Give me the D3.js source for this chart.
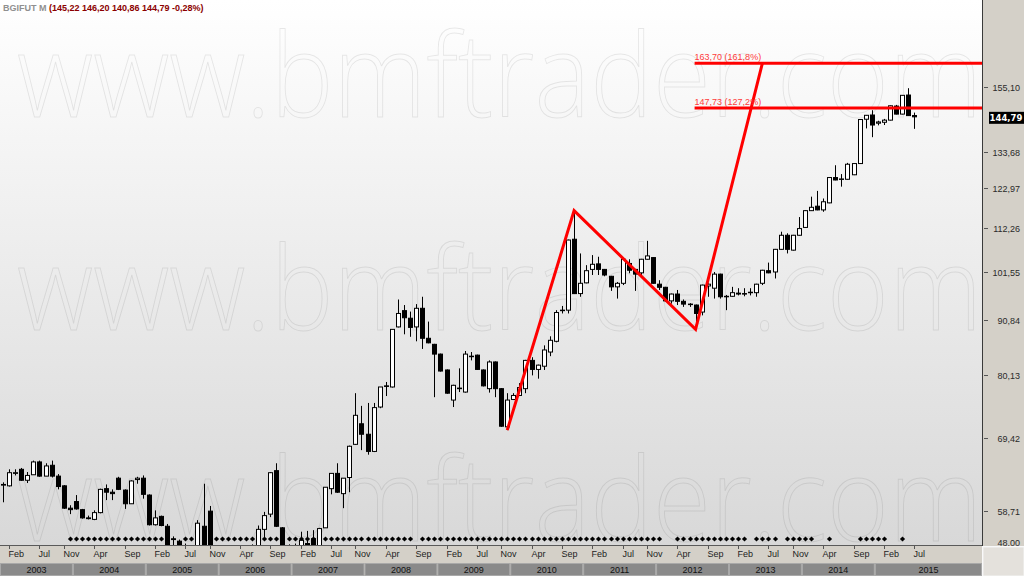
<!DOCTYPE html>
<html><head><meta charset="utf-8">
<script src="https://cdn.jsdelivr.net/npm/d3@7"></script>
<style>body{margin:0;background:#fff;} svg{display:block;}</style>
</head><body>
<svg id="c" width="1024" height="576"></svg>
<script>
// ---------------- DATA ----------------
const symbolName = "BGIFUT M";
const startYear = 2003;               // first bar = Jan 2003, monthly bars
const years = [2003,2004,2005,2006,2007,2008,2009,2010,2011,2012,2013,2014,2015];
const monthNames = ["Jan","Feb","Mar","Apr","May","Jun","Jul","Aug","Sep","Oct","Nov","Dec"];
const tickMonths = [1,6,10,15,20,25,30,34,39,44,49,54,58,63,68,73,78,82,87,92,97,102,106,111,116,121,126,130,135,140,145,150];

const opens = [62.3,62.2,64.0,64.6,63.0,63.8,65.7,63.6,65.2,63.6,62.2,59.1,60.0,58.9,57.8,57.6,58.5,61.8,61.3,63.3,
61.6,59.7,63.1,63.3,60.9,56.9,58.0,56.7,55.1,54.8,54.0,53.2,53.6,56.7,58.7,53.0,52.5,52.0,52.6,53.2,
52.8,53.5,53.9,56.3,58.3,64.4,56.5,53.5,53.9,54.2,54.5,55.1,54.0,56.5,61.8,64.0,61.1,63.4,68.4,71.7,
70.0,67.3,74.5,78.2,78.0,89.5,92.9,91.3,89.5,93.4,87.2,86.0,84.1,81.1,75.7,77.7,77.1,83.7,83.9,81.1,
77.7,82.6,77.7,71.2,75.8,76.5,77.7,82.9,81.2,81.8,84.5,86.6,92.9,93.0,109.4,96.6,99.0,102.1,103.4,102.1,
100.5,98.1,98.9,103.5,102.1,101.3,104.5,104.9,98.7,98.0,95.0,96.5,94.9,94.3,94.1,92.6,98.3,97.8,101.0,95.9,
96.0,96.7,96.6,96.8,96.8,98.9,101.8,101.5,106.9,110.4,106.7,110.4,112.4,116.8,118.0,117.0,118.9,126.0,125.5,125.5,
126.8,130.1,144.0,145.4,142.7,143.0,143.7,148.4,145.7,152.2,145.22];
const highs = [62.7,64.6,64.6,64.8,64.2,65.9,65.9,65.5,65.9,63.9,62.3,59.5,60.9,59.0,58.1,58.8,61.8,62.4,61.7,63.5,
61.7,63.0,63.5,63.7,61.0,58.8,58.1,57.0,55.4,55.0,54.5,54.2,57.5,62.5,59.4,54.3,53.5,53.2,53.8,54.2,
53.9,54.4,56.8,58.6,64.2,65.5,56.6,54.4,54.5,56.0,56.1,56.2,56.5,62.0,64.0,65.5,63.3,68.2,76.9,74.7,
75.2,75.2,78.0,78.9,89.0,95.3,94.1,92.7,94.3,95.9,90.6,86.1,84.2,81.2,78.4,81.4,84.7,84.5,84.0,81.2,
82.9,82.7,77.8,76.9,76.9,78.7,83.0,83.5,82.1,85.8,87.6,93.0,93.9,109.3,116.82,105.9,103.1,105.5,105.1,102.2,
100.6,99.2,104.5,104.5,102.2,104.6,109.0,105.0,99.6,98.1,96.6,97.4,95.3,94.5,94.2,98.6,98.9,101.5,101.1,96.3,
98.1,97.8,97.8,97.8,98.8,102.0,103.7,107.0,111.3,110.9,110.5,115.1,116.9,120.6,122.2,120.1,126.1,129.6,127.0,130.3,
130.2,144.0,145.4,147.0,143.5,144.1,148.6,148.8,152.2,154.6,146.20];
const lows = [59.9,62.1,63.7,62.9,62.6,63.8,63.5,63.6,63.4,61.7,59.0,58.3,58.9,57.7,57.6,57.5,58.4,60.2,60.2,61.6,
59.0,59.7,62.5,60.4,56.8,56.8,56.7,53.8,54.3,53.9,52.6,52.0,53.2,53.6,52.5,51.8,51.5,51.0,52.0,52.4,
52.0,52.8,53.6,55.2,57.9,56.6,53.0,52.6,53.0,53.8,53.6,53.5,53.8,56.5,61.0,61.2,59.1,61.3,68.3,67.5,
66.8,67.2,74.3,76.4,77.9,89.4,88.0,87.5,86.6,85.1,86.2,76.2,80.8,76.8,74.5,77.1,77.0,82.9,81.1,78.1,
77.0,76.2,71.2,70.66,75.7,76.4,76.9,80.1,79.5,81.1,83.7,86.4,92.3,92.3,96.5,95.9,98.9,100.8,100.8,100.5,
97.2,95.5,98.5,101.2,97.2,100.8,104.4,98.8,97.4,94.8,94.4,94.1,93.7,93.7,89.02,91.9,95.9,95.5,95.5,93.0,
95.9,96.2,96.0,96.2,95.9,98.5,101.2,100.0,106.8,105.9,106.6,110.3,112.3,116.7,116.9,116.5,118.8,125.2,123.4,125.4,
126.7,130.0,141.0,138.2,142.0,142.1,143.6,145.6,145.6,145.1,140.86];
const closes = [62.4,64.1,64.1,63.0,63.7,65.7,63.6,65.1,63.6,62.1,59.1,58.9,59.0,57.8,57.7,58.5,61.7,61.3,61.1,61.7,
59.7,62.9,63.3,61.0,56.9,57.8,56.8,54.0,55.0,54.2,53.2,53.6,57.1,54.0,53.0,52.5,52.0,52.6,53.2,52.8,
53.5,53.9,56.3,58.1,64.1,56.7,53.5,53.9,54.2,54.9,54.2,54.0,56.4,62.0,64.0,61.3,63.3,68.1,73.1,70.0,
67.3,74.4,78.0,78.1,89.0,92.3,91.4,89.4,93.4,87.2,86.3,84.1,80.9,76.9,78.3,77.8,84.1,83.6,81.2,78.2,
82.6,77.7,71.3,75.7,76.5,77.9,82.9,81.2,82.0,84.9,86.8,92.5,93.0,109.2,96.6,98.9,101.8,103.3,102.1,100.8,
98.1,98.9,104.5,101.9,101.0,104.5,105.3,98.9,98.0,95.0,96.5,94.9,94.3,94.2,92.3,98.5,98.7,101.0,95.9,96.0,
96.8,96.5,96.5,96.9,98.7,101.9,101.3,106.9,110.4,106.9,110.4,112.1,116.8,117.7,117.0,119.2,126.0,125.3,125.6,129.9,
130.1,143.9,145.3,142.1,143.1,143.7,148.5,145.7,152.1,145.2,144.79];
const changePct = -0.28;

// months (bar index) carrying the bottom signal diamond
const signalMonths = [11,12,13,14,15,16,17,18,19,20,21,22,23,24,25,26,30,31,35,36,37,38,39,40,41,43,44,45,
47,48,49,50,51,52,53,54,55,56,57,58,59,60,61,62,63,64,65,66,67,
69,70,71,72,73,74,75,76,77,78,79,80,81,82,83,84,85,86,87,88,89,90,91,92,93,94,95,96,97,98,99,100,101,102,103,104,105,106,107,108,
111,112,113,114,115,116,117,118,119,120,121,122,124,125,126,127,129,130,131,132,133,136,141,142,143,144,145,148];

const yTickValues = [58.71,69.42,80.13,90.84,101.55,112.26,122.97,133.68,155.10];
const yBottomLabel = "48.00";

// ABCD / Fibonacci projection drawn on the chart
const abcdMonths = [83,94,114,125];
const abcdValues = [70.66,116.82,89.02,163.70];
const fibValues = [163.70,147.73];
const fibPcts = [161.8,127.2];

// ---------------- LAYOUT ----------------
const W = 1024, H = 576;
const plotR = 982, plotB = 545;
const svg = d3.select("#c");
const nBars = opens.length;
const bars = d3.range(nBars).map(i => ({i, o:opens[i], h:highs[i], l:lows[i], c:closes[i]}));
const br = d3.formatLocale({decimal:",", thousands:".", grouping:[3], currency:["",""], minus:"-"});
const f2 = br.format(".2f"), f1 = br.format(".1f");

const x = d3.scaleBand().domain(d3.range(nBars)).range([0, nBars*6.075]);
const cx = i => x(i) + x.bandwidth()/2;
// log price scale, fitted to tick positions
const y = d3.scaleLog().domain([54.32, 189.2]).range([plotB, 0]);

const defs = svg.append("defs");
const g1 = defs.append("linearGradient").attr("id","bg").attr("x1",0).attr("y1",0).attr("x2",0).attr("y2",1);
g1.append("stop").attr("offset","0%").attr("stop-color","#ffffff");
g1.append("stop").attr("offset","100%").attr("stop-color","#d8d8d8");
defs.append("clipPath").attr("id","clip").append("rect").attr("x",0).attr("y",0).attr("width",plotR).attr("height",plotB);

// backgrounds
svg.append("rect").attr("x",0).attr("y",0).attr("width",plotR).attr("height",plotB).attr("fill","url(#bg)");
svg.append("rect").attr("x",plotR).attr("y",0).attr("width",W-plotR).attr("height",plotB+1).attr("fill","#d4d0c8");
svg.append("rect").attr("x",0).attr("y",plotB).attr("width",plotR).attr("height",H-plotB).attr("fill","#d4d0c8");
svg.append("rect").attr("x",plotR+1).attr("y",plotB+2).attr("width",W-plotR-1).attr("height",H-plotB-2).attr("fill","#e4e1dc").attr("stroke","#f4f4f4");

// watermark
[117, 330, 541].forEach(b => {
  svg.append("text").attr("x",17).attr("y",b).text("www.bmftrader.com")
    .attr("font-family","'Open Sans', 'DejaVu Sans', sans-serif").attr("font-weight",300)
    .attr("font-size",116).attr("textLength",965).attr("lengthAdjust","spacingAndGlyphs")
    .attr("fill","none").attr("stroke","#000").attr("stroke-opacity",0.085).attr("stroke-width",1);
});

const plot = svg.append("g").attr("clip-path","url(#clip)");

// signal diamonds
plot.selectAll("path.sig").data(signalMonths).join("path").attr("class","sig")
  .attr("transform", d => `translate(${Math.round(cx(d))+0.5},539)`)
  .attr("d","M0,-2.6L2.6,0L0,2.6L-2.6,0Z").attr("fill","#000");

// candles
const cg = plot.selectAll("g.cdl").data(bars).join("g").attr("class","cdl");
cg.append("line")
  .attr("x1", d => Math.round(cx(d.i))+0.5).attr("x2", d => Math.round(cx(d.i))+0.5)
  .attr("y1", d => y(d.h)).attr("y2", d => y(d.l)).attr("stroke","#000").attr("stroke-width",1);
cg.append("rect")
  .attr("x", d => Math.round(cx(d.i))-2+0.5).attr("width",4)
  .attr("y", d => y(Math.max(d.o,d.c)))
  .attr("height", d => Math.max(0.5, y(Math.min(d.o,d.c)) - y(Math.max(d.o,d.c))))
  .attr("fill", d => d.c >= d.o ? "#fff" : "#000").attr("stroke","#000").attr("stroke-width",1);

// ABCD red lines
const pts = abcdMonths.map((m,k) => [cx(m), y(abcdValues[k])]);
plot.append("path").attr("d", d3.line()(pts)).attr("fill","none").attr("stroke","#ff0000")
  .attr("stroke-width",3).attr("stroke-linejoin","miter");
fibValues.forEach((v,k) => {
  plot.append("line").attr("x1", cx(abcdMonths[2])-1).attr("x2", plotR).attr("y1", y(v)).attr("y2", y(v))
    .attr("stroke","#ff0000").attr("stroke-width",3);
  plot.append("text").attr("x", cx(abcdMonths[2])-1).attr("y", y(v)-3)
    .text(`${f2(v)} (${f1(fibPcts[k])}%)`).attr("font-family","'Liberation Sans', Arial, sans-serif")
    .attr("font-size",9).attr("fill","#ff3b3b");
});

// frame lines
svg.append("line").attr("x1",0).attr("x2",plotR+1).attr("y1",plotB+0.5).attr("y2",plotB+0.5).attr("stroke","#5a5a5a");
svg.append("line").attr("x1",plotR+0.5).attr("x2",plotR+0.5).attr("y1",0).attr("y2",plotB+1).attr("stroke","#3a3a3a");

// right price axis
const ax = svg.append("g").attr("font-family","'Liberation Sans', Arial, sans-serif").attr("font-size",9).attr("fill","#2a2a2a");
yTickValues.forEach(v => {
  const yy = Math.round(y(v))+0.5;
  ax.append("line").attr("x1",plotR+2).attr("x2",plotR+6).attr("y1",yy).attr("y2",yy).attr("stroke","#555");
  ax.append("text").attr("x",1020).attr("y",yy+3).attr("text-anchor","end").text(f2(v));
});
ax.append("text").attr("x",1020).attr("y",plotB+1).attr("text-anchor","end").text(yBottomLabel);
// last price marker
const lastY = y(closes[nBars-1]);
svg.append("rect").attr("x",989).attr("y",lastY-5).attr("width",35).attr("height",12).attr("fill","#000");
svg.append("text").attr("x",1006).attr("y",lastY+4).attr("text-anchor","middle").text(f2(closes[nBars-1]))
  .attr("font-family","'DejaVu Sans', sans-serif").attr("font-weight","bold").attr("font-size",8.5).attr("fill","#fff");

// month axis
const mx = svg.append("g").attr("font-family","'Liberation Sans', Arial, sans-serif").attr("font-size",9).attr("fill","#222");
tickMonths.forEach(m => {
  const xx = Math.round(cx(m))+0.5;
  mx.append("line").attr("x1",xx).attr("x2",xx).attr("y1",plotB+1).attr("y2",plotB+4).attr("stroke","#555");
  mx.append("text").attr("x",xx-1).attr("y",plotB+12).text(monthNames[(m) % 12]);
});
// year bar
years.forEach((yr,k) => {
  const x0 = x(k*12);
  const x1 = k === years.length-1 ? plotR : x((k+1)*12);
  svg.append("rect").attr("x",x0+0.5).attr("y",563.5).attr("width",x1-x0-1).attr("height",12)
    .attr("fill","#8a8a8a").attr("stroke","#a9a9a9");
  svg.append("text").attr("x",(x0+x1)/2).attr("y",573).attr("text-anchor","middle").text(yr)
    .attr("font-family","'Liberation Sans', Arial, sans-serif").attr("font-size",9).attr("fill","#111");
});

// title
const t = svg.append("text").attr("x",3).attr("y",11).attr("font-family","'Liberation Sans', Arial, sans-serif")
  .attr("font-weight","bold").attr("font-size",9);
t.append("tspan").attr("fill","#909090").text(symbolName + " ");
const last = nBars-1;
t.append("tspan").attr("fill","#8b0000")
  .text(`(${f2(opens[last])}  ${f2(highs[last])}  ${f2(lows[last])}  ${f2(closes[last])}  ${f2(changePct)}%)`);
</script>
</body></html>
